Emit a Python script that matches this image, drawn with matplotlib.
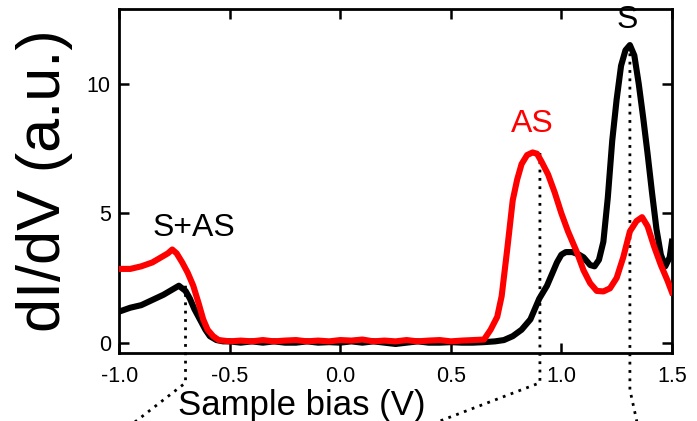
import matplotlib
matplotlib.use("Agg")
import matplotlib.pyplot as plt

plt.rcParams['font.family'] = ['Liberation Sans', 'DejaVu Sans']

# S (black) spectrum
s_bias = [-1.0, -0.95, -0.9, -0.85, -0.8, -0.76, -0.73, -0.70, -0.68, -0.66,
          -0.635, -0.61, -0.59, -0.56, -0.53, -0.5, -0.45, -0.4, -0.35, -0.3,
          -0.25, -0.2, -0.15, -0.1, -0.05, 0.0, 0.05, 0.1, 0.15, 0.2,
          0.25, 0.3, 0.35, 0.4, 0.45, 0.5, 0.55, 0.6, 0.65, 0.7,
          0.74, 0.78, 0.82, 0.86, 0.9, 0.935, 0.96, 0.98, 1.0, 1.02,
          1.05, 1.08, 1.1, 1.13, 1.15, 1.17, 1.19, 1.21, 1.23, 1.25,
          1.27, 1.29, 1.31, 1.33, 1.35, 1.37, 1.39, 1.41, 1.43, 1.45,
          1.47, 1.49, 1.5]
s_didv = [1.2, 1.35, 1.45, 1.65, 1.85, 2.05, 2.2, 2.0, 1.7, 1.3,
          0.9, 0.5, 0.25, 0.1, 0.05, 0.05, 0.0, 0.05, 0.0, 0.05,
          0.0, 0.0, 0.05, 0.0, 0.02, 0.0, 0.05, 0.0, 0.05, 0.0,
          -0.05, 0.0, 0.05, 0.0, 0.0, 0.02, 0.0, 0.0, 0.02, 0.05,
          0.1, 0.25, 0.5, 0.9, 1.7, 2.2, 2.7, 3.1, 3.4, 3.5,
          3.5, 3.4, 3.3, 3.0, 2.95, 3.2, 3.9, 5.6, 7.8, 9.4,
          10.7, 11.3, 11.5, 11.1, 10.0, 8.7, 7.3, 5.8, 4.4, 3.4,
          2.95, 3.3, 3.9]

# AS (red) spectrum
as_bias = [-1.0, -0.95, -0.9, -0.85, -0.81, -0.78, -0.76, -0.74, -0.715, -0.69,
           -0.665, -0.64, -0.62, -0.6, -0.575, -0.55, -0.5, -0.45, -0.4, -0.35,
           -0.3, -0.25, -0.2, -0.15, -0.1, -0.05, 0.0, 0.05, 0.1, 0.15,
           0.2, 0.25, 0.3, 0.35, 0.4, 0.45, 0.5, 0.55, 0.6, 0.65,
           0.68, 0.71, 0.73, 0.755, 0.78, 0.8, 0.82, 0.845, 0.87, 0.89,
           0.91, 0.94, 0.97, 1.0, 1.03, 1.07, 1.1, 1.13, 1.16, 1.19,
           1.22, 1.25, 1.28, 1.31, 1.34, 1.365, 1.39, 1.42, 1.45, 1.48, 1.5]
as_didv = [2.85, 2.85, 2.95, 3.1, 3.3, 3.45, 3.6, 3.45, 3.1, 2.7,
           2.2, 1.5, 0.9, 0.5, 0.25, 0.1, 0.05, 0.08, 0.05, 0.1,
           0.05, 0.08, 0.1, 0.05, 0.08, 0.05, 0.1, 0.08, 0.12, 0.05,
           0.08, 0.05, 0.1, 0.05, 0.08, 0.1, 0.05, 0.08, 0.1, 0.12,
           0.5, 1.0, 1.8, 3.6, 5.5, 6.3, 6.9, 7.25, 7.35, 7.3,
           7.0, 6.5, 5.8, 5.0, 4.3, 3.5, 2.8, 2.3, 2.0, 1.98,
           2.1, 2.5, 3.3, 4.3, 4.7, 4.85, 4.5, 3.7, 3.0, 2.4, 1.95]

# guide lines (peak markers continuing below the axis)
guide_x = [[-0.70, -0.70, -0.905, -0.95],
           [0.903, 0.903, 0.465, 0.40],
           [1.31, 1.31, 1.337, 1.345]]
guide_y = [[2.2, -1.55, -2.91, -3.2],
           [7.33, -1.55, -2.98, -3.2],
           [11.5, -1.82, -2.87, -3.2]]

fig = plt.figure(figsize=(6.97, 4.21), dpi=100)
ax = fig.add_axes([0.171, 0.1615, 0.793, 0.8175])

for gx, gy in zip(guide_x, guide_y):
    ax.plot(gx, gy, color='black', lw=2, linestyle=(0, (1, 2)),
            clip_on=False, zorder=1)

ax.plot(s_bias, s_didv, color='black', lw=4.4, zorder=3)
ax.plot(as_bias, as_didv, color='#ff0000', lw=4.4, zorder=4)

ax.text(-0.66, 4.45, 'S+AS', fontsize=23, ha='center', va='center')
ax.text(0.87, 8.45, 'AS', fontsize=23, ha='center', va='center', color='#ff0000')
ax.text(1.30, 12.45, 'S', fontsize=23, ha='center', va='center')

ax.set_xlim(-1.0, 1.5)
ax.set_ylim(-0.4, 12.9)
ax.set_xticks([-1.0, -0.5, 0.0, 0.5, 1.0, 1.5])
ax.set_xticklabels(['-1.0', '-0.5', '0.0', '0.5', '1.0', '1.5'])
ax.set_yticks([0, 5, 10])
ax.tick_params(direction='in', length=7, width=1.8, labelsize=15.5,
               top=True, right=True, pad=6)
ax.tick_params(axis='x', pad=9)
for sp in ax.spines.values():
    sp.set_linewidth(2)

ax.set_xlabel('Sample bias (V)', fontsize=25)
ax.xaxis.set_label_coords(0.331, -0.104)
ax.set_ylabel('dI/dV (a.u.)', fontsize=44, labelpad=10)

fig.savefig('out.png', dpi=100)
